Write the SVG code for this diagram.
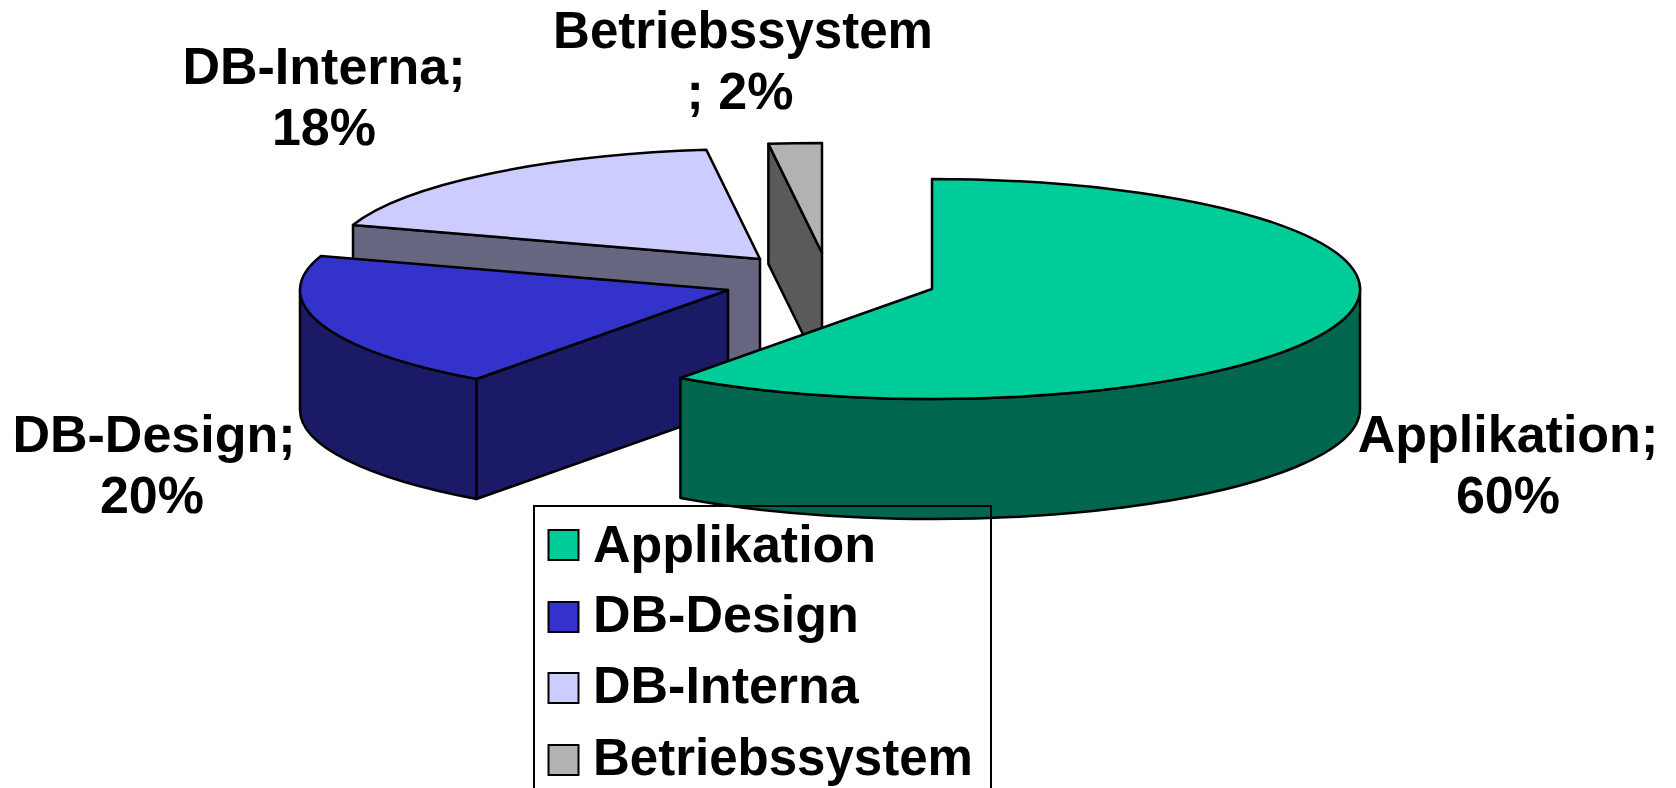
<svg xmlns="http://www.w3.org/2000/svg" width="1676" height="788" viewBox="0 0 1676 788">
<style>
.edge{stroke:#000;stroke-width:2.5;stroke-linejoin:round}
.lbl{font-family:"Liberation Sans",Arial,sans-serif;font-weight:bold;font-size:52px;fill:#000}
.narrow{font-size:51px}
.sw{stroke:#000;stroke-width:2}
</style>
<rect width="1676" height="788" fill="#fff"/>
<g id="slice-db-interna">
<path class="edge" fill="#666680" d="M353,225 L760,259 L760,379 L353,345 Z"/>
<path class="edge" fill="#CCCCFF" d="M760,259 L352.95,225 A428 110 0 0 1 706.36,149.87 Z"/>
</g>
<g id="slice-betriebssystem">
<path class="edge" fill="#5A5A5A" d="M768.36,143.87 L822,253 L822,373 L768.36,263.87 Z"/>
<path class="edge" fill="#B2B2B2" d="M822,253 L768.36,143.87 A428 110 0 0 1 822,143 Z"/>
</g>
<g id="slice-db-design">
<path class="edge" fill="#1A1A66" d="M476.43,378.99 L728,290 L728,410 L476.43,498.99 Z"/>
<path class="edge" fill="#1A1A66" d="M476.43,378.99 A428 110 0 0 1 300,290 L300,410 A428 110 0 0 0 476.43,498.99 Z"/>
<path class="edge" fill="#3333CC" d="M728,290 L476.43,378.99 A428 110 0 0 1 320.95,256.01 Z"/>
</g>
<g id="slice-applikation">
<path class="edge" fill="#00664D" d="M1360,289 A428 110 0 0 1 680.43,377.99 L680.43,497.99 A428 110 0 0 0 1360,409 Z"/>
<path class="edge" fill="#00CC99" d="M932,289 L932,179 A428 110 0 1 1 680.43,377.99 Z"/>
</g>
<g id="labels">
<text class="lbl" x="324" y="84" text-anchor="middle">DB-Interna;</text>
<text class="lbl" x="324" y="145" text-anchor="middle">18%</text>
<text class="lbl narrow" x="743" y="48" text-anchor="middle">Betriebssystem</text>
<text class="lbl" x="740" y="109" text-anchor="middle">; 2%</text>
<text class="lbl" x="154" y="452" text-anchor="middle">DB-Design;</text>
<text class="lbl" x="152" y="513" text-anchor="middle">20%</text>
<text class="lbl" x="1508" y="452" text-anchor="middle">Applikation;</text>
<text class="lbl" x="1508" y="513" text-anchor="middle">60%</text>
</g>
<g id="legend">
<rect x="534" y="506" width="457" height="300" fill="none" stroke="#000" stroke-width="2"/>
<rect class="sw" x="548.5" y="530" width="30" height="30" fill="#00CC99"/>
<rect class="sw" x="548.5" y="602" width="30" height="30" fill="#3333CC"/>
<rect class="sw" x="548.5" y="673" width="30" height="30" fill="#CCCCFF"/>
<rect class="sw" x="548.5" y="745" width="30" height="30" fill="#B2B2B2"/>
<text class="lbl" x="593" y="562">Applikation</text>
<text class="lbl" x="593" y="632">DB-Design</text>
<text class="lbl" x="593" y="703">DB-Interna</text>
<text class="lbl narrow" x="593" y="775">Betriebssystem</text>
</g>
</svg>
